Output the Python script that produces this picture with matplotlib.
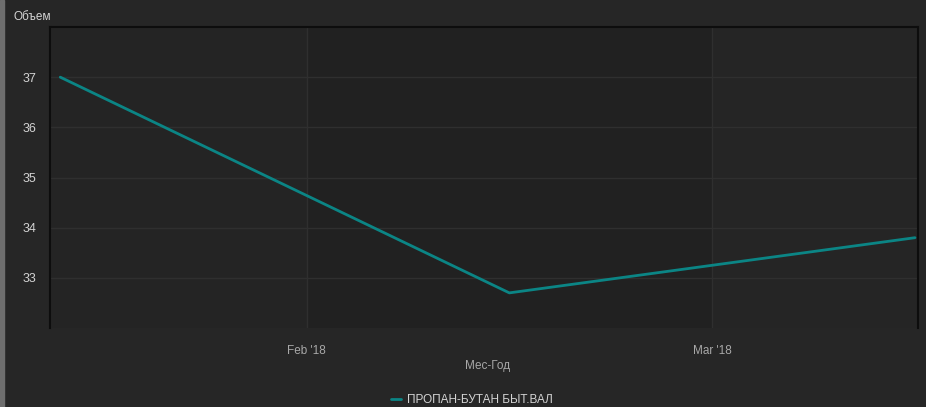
import matplotlib
matplotlib.use('Agg')
import matplotlib.pyplot as plt
import matplotlib.dates as mdates
from datetime import datetime

# Данные
dates = [datetime(2018, 1, 15), datetime(2018, 2, 15), datetime(2018, 3, 15)]
volume = [37.0, 32.7, 33.8]
series_name = 'ПРОПАН-БУТАН БЫТ.ВАЛ'
y_ticks = [33, 34, 35, 36, 37]
month_starts = [datetime(2018, 1, 1), datetime(2018, 2, 1), datetime(2018, 3, 1), datetime(2018, 4, 1)]
month_labels = ["Feb '18", "Mar '18"]

plt.rcParams['font.family'] = ['Liberation Sans', 'DejaVu Sans']

fig = plt.figure(figsize=(9.26, 4.07), dpi=100, facecolor='#262626')
ax = fig.add_axes([50 / 926, 1 - 328 / 407, 868 / 926, 301 / 407])
ax.set_facecolor('#242424')

# полоса слева (серая)
fig.patches.append(plt.Rectangle((0, 0), 4 / 926, 1, transform=fig.transFigure,
                                 color='#6e6e6e', zorder=0))

x0 = mdates.date2num(datetime(2018, 1, 14, 7))
x1 = mdates.date2num(datetime(2018, 3, 15, 5))
ax.set_xlim(x0, x1)
ax.set_ylim(32, 38)

# чередующиеся полосы по месяцам
band_colors = ['#242424', '#212121', '#252525']
for i in range(3):
    ax.axvspan(mdates.date2num(month_starts[i]), mdates.date2num(month_starts[i + 1]),
               color=band_colors[i], zorder=0, lw=0)

ax.plot(mdates.date2num(dates), volume, color='#0b8585', lw=2, zorder=3,
        label=series_name, solid_capstyle='round')

ax.set_yticks(y_ticks)
ax.set_yticklabels([str(v) for v in y_ticks])
ax.set_xticks(mdates.date2num(month_starts[1:3]))
ax.set_xticklabels(month_labels)

ax.grid(True, color='#2f2f2f', lw=1, zorder=1)
ax.set_axisbelow(True)

for s in ['left', 'top', 'right']:
    ax.spines[s].set_color('#0d0d0d')
    ax.spines[s].set_linewidth(1.5)
ax.spines['bottom'].set_visible(False)

ax.tick_params(axis='y', length=0, pad=10, labelsize=9, labelcolor='#d4d4d4')
ax.tick_params(axis='x', length=0, pad=12, labelsize=8.5, labelcolor='#a8a8a8')

fig.text(14 / 926, 1 - 17 / 407, 'Объем', fontsize=8.5, color='#d4d4d4', va='center', ha='left')
fig.text(488 / 926, 1 - 366 / 407, 'Мес-Год', fontsize=8.5, color='#a8a8a8', va='center', ha='center')

leg = fig.legend(loc='center', bbox_to_anchor=(472 / 926, 1 - 400 / 407), frameon=False,
                 fontsize=8.5, handlelength=0.8, handletextpad=0.5, labelcolor='#d4d4d4')

fig.savefig('out.png', dpi=100, facecolor=fig.get_facecolor())
